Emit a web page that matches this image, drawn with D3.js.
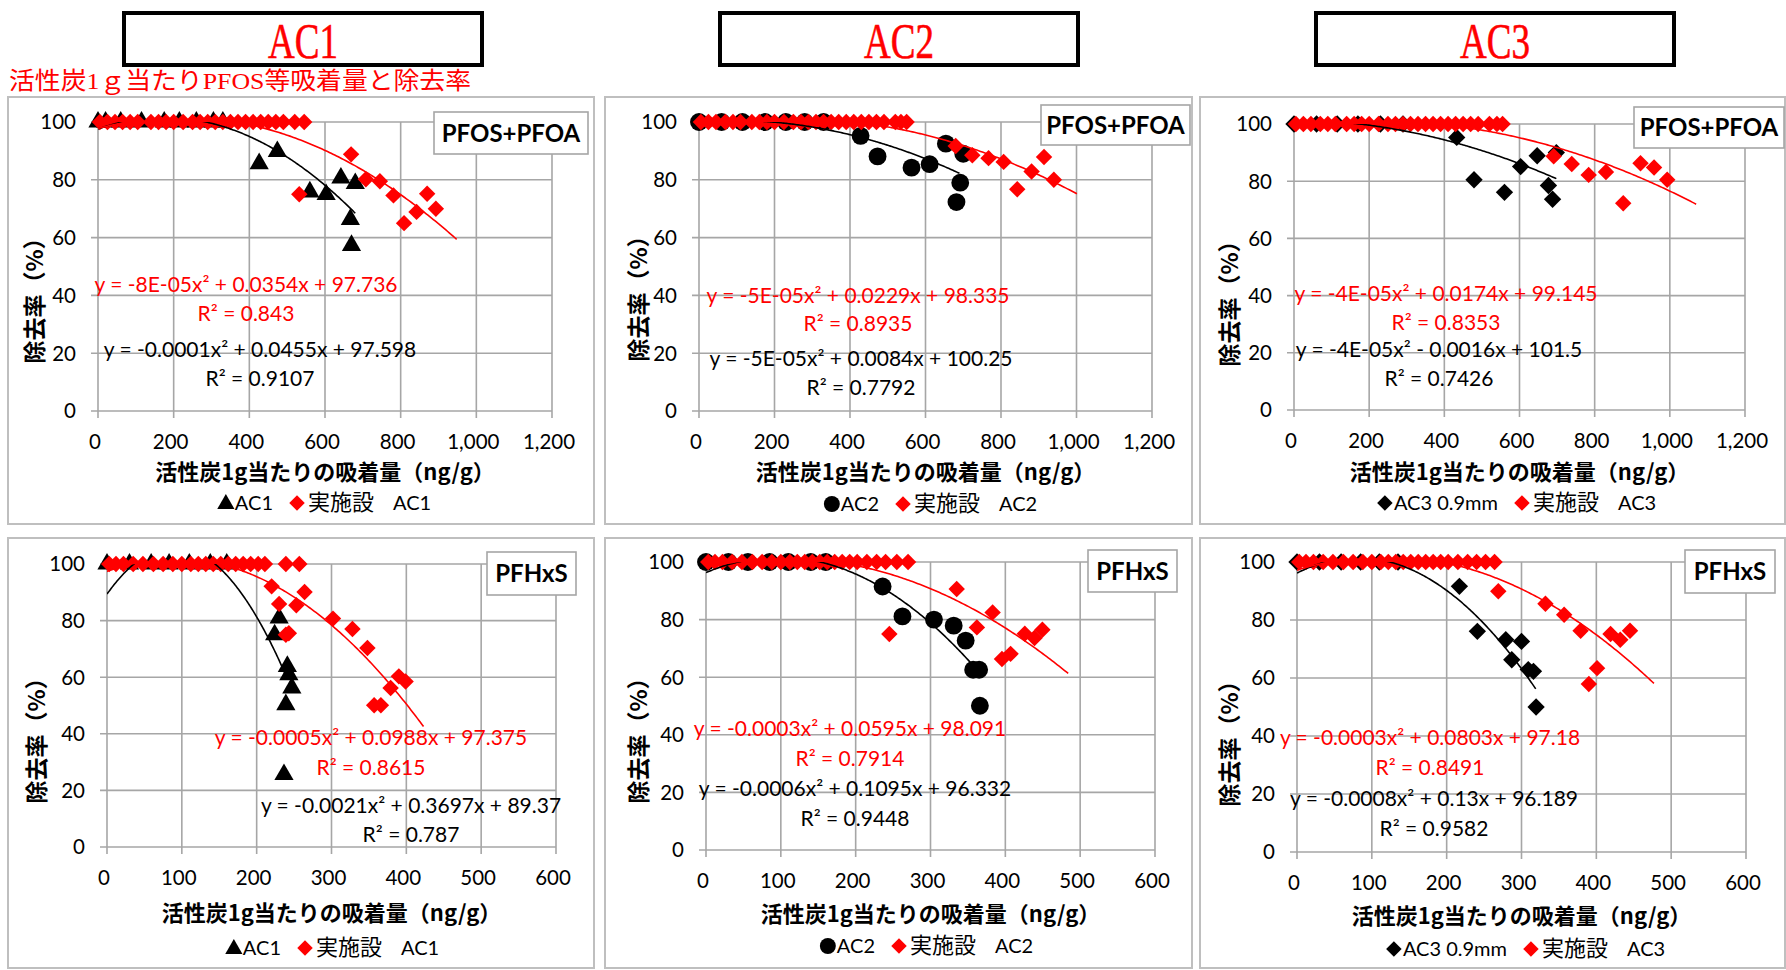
<!DOCTYPE html>
<html><head><meta charset="utf-8">
<script src="https://cdn.jsdelivr.net/npm/d3@7"></script>
<style>body{margin:0;background:#fff;} svg{display:block;}</style>
</head><body>
<svg id="c" width="1786" height="970"></svg>
<script>
// ---------------- DATA ----------------
const groups = ["AC1", "AC2", "AC3"];
const subtitle = "活性炭1ｇ当たりPFOS等吸着量と除去率";
const compounds = ["PFOS+PFOA", "PFHxS"];
const yTicks = [0, 20, 40, 60, 80, 100];
const xTicksTop = [0, 200, 400, 600, 800, 1000, 1200];
const xTicksBottom = [0, 100, 200, 300, 400, 500, 600];
const xTitle = "活性炭1g当たりの吸着量（ng/g）";
const yTitle = "除去率（%）";
const labNames = ["AC1", "AC2", "AC3 0.9mm"];
const plantLabel = "実施設";
const plantSuffix = ["AC1", "AC2", "AC3"];

// PFOS+PFOA
const pfosLabAC1 = [[0,100],[20,100],[60,100],[115,100],[175,100],[215,100],[260,100],[305,100],[330,100],
  [426,85.6],[474,89.8],[560,75.8],[603,74.9],[642,80.6],[680,78.7],[667,66.3],[670,57.3]];
const pfosPlantAC1 = [[5,100],[25,100],[45,100],[65,100],[85,100],[105,100],[140,100],[160,100],[180,100],[200,100],
  [225,100],[250,100],[270,100],[290,100],[310,100],[330,100],[350,100],[370,100],[390,100],[410,100],[430,100],
  [450,100],[470,100],[490,100],[520,100],[545,100],
  [532,75],[669,88.8],[708,80.2],[745,79.5],[781,74.6],[809,65],[842,68.9],[870,75.2],[893,70]];
const pfosLabAC2 = [[0,100],[60,100],[115,100],[175,100],[230,100],[280,100],[330,100],
  [428,95.2],[473,88.1],[563,84.2],[611,85.4],[654,92.5],[700,89],[692,79],[682,72.3]];
const pfosPlantAC2 = [[5,100],[25,100],[45,100],[70,100],[90,100],[110,100],[140,100],[160,100],[180,100],[200,100],
  [225,100],[250,100],[270,100],[290,100],[310,100],[330,100],[350,100],[370,100],[390,100],[410,100],[430,100],
  [450,100],[470,100],[490,100],[520,100],[535,100],[550,100],
  [680,91.7],[724,88.5],[767,87.5],[807,86.2],[843,76.7],[881,82.9],[914,87.9],[940,80]];
const pfosLabAC3 = [[0,100],[60,100],[115,100],[170,100],[230,100],[290,100],
  [433,95.3],[479,80.5],[560,76.1],[603,85.1],[647,88.9],[698,90],[677,78.5],[688,73.7]];
const pfosPlantAC3 = [[5,100],[25,100],[45,100],[70,100],[90,100],[110,100],[140,100],[160,100],[180,100],[200,100],
  [225,100],[250,100],[270,100],[290,100],[310,100],[330,100],[350,100],[370,100],[390,100],[410,100],[430,100],
  [450,100],[470,100],[490,100],[520,100],[540,100],[555,100],
  [691,88.7],[739,86],[784,82.2],[830,83.2],[876,72.3],[922,86.3],[958,84.8],[993,80.5]];

// PFHxS
const pfhxsLabAC1 = [[0,100],[30,100],[59,100],[83,100],[110,100],[138,100],[160,100],
  [230,80.9],[224,75],[241,63.8],[243,60.9],[247,56.2],[239,50.3],[236.5,25.6]];
const pfhxsPlantAC1 = [[3,100],[12,100],[22,100],[35,100],[48,100],[62,100],[75,100],[88,100],[100,100],[112,100],
  [122,100],[132,100],[142,100],[152,100],[162,100],[172,100],[182,100],[192,100],[202,100],[211,100],[239,100],[257,100],
  [220,92.1],[230,85.9],[239,75],[243,75.5],[253,85.4],[264,90.1],[302,80.7],[328,77],[348,70.3],[357,50.1],[366,50.1],
  [379,56.2],[390,60.3],[399,58.5]];
const pfhxsLabAC2 = [[0,100],[30,100],[56,100],[85,100],[110,100],[140,100],[160,100],
  [236,91.5],[262.5,81.1],[304.6,80],[331,77.9],[347,72.7],[357,62.6],[365,62.6],[366,50.1]];
const pfhxsPlantAC2 = [[3,100],[12,100],[22,100],[35,100],[48,100],[62,100],[75,100],[88,100],[100,100],[112,100],
  [122,100],[132,100],[142,100],[152,100],[162,100],[172,100],[182,100],[192,100],[202,100],[215,100],[228,100],
  [240,100],[255,100],[270,100],
  [245,75],[335,90.6],[362,77.3],[383,82.5],[395.5,66.3],[407,68.1],[426,75.1],[439,73.6],[449.5,76.5]];
const pfhxsLabAC3 = [[0,100],[30,100],[59,100],[85,100],[110,100],[135,100],
  [217,91.6],[241,76.1],[279,73.2],[287,66.3],[300,72.6],[309,62.9],[316,62.3],[319.5,50]];
const pfhxsPlantAC3 = [[3,100],[12,100],[22,100],[35,100],[48,100],[62,100],[75,100],[88,100],[100,100],[112,100],
  [122,100],[132,100],[142,100],[152,100],[162,100],[172,100],[182,100],[192,100],[202,100],[215,100],[228,100],
  [240,100],[252,100],[264,100],
  [269,89.9],[332,85.6],[357,81.8],[379,76.3],[390,57.9],[401,63.4],[419,75.2],[432,73.2],[445,76.3]];

// polynomial trendlines [a, b, c, xEnd]
const trendLab = [[-1.30e-4,0.0455,97.598,680],[-5e-5,0.0084,100.25,690],[-4e-5,-0.0016,101.5,698],
                  [-2.05e-3,0.3697,89.37,239],[-5.6e-4,0.1095,96.332,357],[-8e-4,0.13,96.189,319]];
const trendPlant = [[-8e-5,0.0354,97.736,948],[-4.6e-5,0.0229,98.335,1001],[-4e-5,0.0174,99.145,1070],
                    [-5.4e-4,0.0988,97.375,423],[-2.8e-4,0.0595,98.091,484],[-3.4e-4,0.0803,97.18,477]];
const eqLabText = ["y = -0.0001x² + 0.0455x + 97.598","y = -5E-05x² + 0.0084x + 100.25","y = -4E-05x² - 0.0016x + 101.5",
                   "y = -0.0021x² + 0.3697x + 89.37","y = -0.0006x² + 0.1095x + 96.332","y = -0.0008x² + 0.13x + 96.189"];
const r2LabText = ["R² = 0.9107","R² = 0.7792","R² = 0.7426","R² = 0.787","R² = 0.9448","R² = 0.9582"];
const eqPlantText = ["y = -8E-05x² + 0.0354x + 97.736","y = -5E-05x² + 0.0229x + 98.335","y = -4E-05x² + 0.0174x + 99.145",
                     "y = -0.0005x² + 0.0988x + 97.375","y = -0.0003x² + 0.0595x + 98.091","y = -0.0003x² + 0.0803x + 97.18"];
const r2PlantText = ["R² = 0.843","R² = 0.8935","R² = 0.8353","R² = 0.8615","R² = 0.7914","R² = 0.8491"];

const labSeries = [pfosLabAC1, pfosLabAC2, pfosLabAC3, pfhxsLabAC1, pfhxsLabAC2, pfhxsLabAC3];
const plantSeries = [pfosPlantAC1, pfosPlantAC2, pfosPlantAC3, pfhxsPlantAC1, pfhxsPlantAC2, pfhxsPlantAC3];

// ---------------- LAYOUT ----------------
const headerX = [124, 720, 1316];
const panelRect = [[8,97,586,427],[605,97,587,427],[1200,97,585,427],[8,538,586,430],[605,538,587,430],[1200,538,585,430]];
const plotArea = [[98,552,122,411],[699,1152,122,411],[1294,1745,124,410],[107,556,564,847],[706,1155,562,850],[1297,1746,562,852]];
const labelBox = [[434,112,154,42],[1041,105,149,40],[1634,107,150,41],[487,552,89,43],[1088,550,89,42],[1685,550,90,43]];
const yTitlePos = [[35,295],[639,293],[1230,298],[37,735],[639,735],[1230,738]];
const xTitleY = [472,472,472,913,914,916];
const legendPos = [[325,503],[931,504],[1517,503],[333,948],[927,946],[1526,949]];
const eqPlantPos = [[246,284,313],[858,295,323],[1446,293,322],[371,737,767],[850,728,758],[1430,737,767]];
const eqLabPos = [[260,349,378],[861,358,387],[1439,349,378],[411,805,834],[855,788,818],[1434,798,828]];
const labShape = ["triangle","circle","diamond"];

const FONT = "Lato, 'Noto Sans CJK JP', sans-serif";
const CJK = "'Noto Sans CJK JP', sans-serif";
const GRID = "#a6a6a6";
const RED = "#ff0000";

const svg = d3.select("#c");
svg.append("rect").attr("width",1786).attr("height",970).attr("fill","#fff");

// headers
groups.forEach((g,i)=>{
  const bx = headerX[i];
  svg.append("rect").attr("x",bx).attr("y",13).attr("width",358).attr("height",52)
    .attr("fill","#fff").attr("stroke","#000").attr("stroke-width",4);
  svg.append("text").attr("x",bx+179).attr("y",58).attr("text-anchor","middle")
    .attr("font-family","'Liberation Serif', serif").attr("font-size",50).attr("fill",RED)
    .attr("stroke",RED).attr("stroke-width",0.6)
    .attr("textLength",70).attr("lengthAdjust","spacingAndGlyphs").text(g);
});
svg.append("text").attr("x",9).attr("y",89).attr("font-family","'Liberation Serif','Noto Sans CJK JP', serif")
  .attr("font-size",24).attr("fill",RED).attr("textLength",462).attr("lengthAdjust","spacingAndGlyphs").text(subtitle);

function marker(sel, shape, size){
  if(shape==="triangle") return sel.append("path").attr("d", d3.symbol(d3.symbolTriangle, size)());
  if(shape==="circle") return sel.append("path").attr("d", d3.symbol(d3.symbolCircle, size)());
  return sel.append("path").attr("d", d3.symbol(d3.symbolSquare, size)());
}

for(let i=0;i<6;i++){
  const row = i<3?0:1, col = i%3;
  const [px,py,pw,ph] = panelRect[i];
  const [x0,x1,yt,yb] = plotArea[i];
  const xMax = row===0?1200:600;
  const xt = row===0?xTicksTop:xTicksBottom;
  const x = d3.scaleLinear().domain([0,xMax]).range([x0,x1]);
  const y = d3.scaleLinear().domain([0,100]).range([yb,yt]);
  const g = svg.append("g");

  g.append("rect").attr("x",px).attr("y",py).attr("width",pw).attr("height",ph)
    .attr("fill","#fff").attr("stroke","#bfbfbf").attr("stroke-width",2);

  // gridlines
  g.append("g").selectAll("line").data(yTicks).join("line")
    .attr("x1",x0-7).attr("x2",x1).attr("y1",d=>y(d)).attr("y2",d=>y(d))
    .attr("stroke",GRID).attr("stroke-width",1.6);
  g.append("g").selectAll("line").data(xt).join("line")
    .attr("x1",d=>x(d)).attr("x2",d=>x(d)).attr("y1",yt).attr("y2",yb+7)
    .attr("stroke",GRID).attr("stroke-width",1.6);

  // tick labels
  g.append("g").selectAll("text").data(yTicks).join("text")
    .attr("x",x0-22).attr("y",d=>y(d)).attr("dy","0.36em").attr("text-anchor","end")
    .attr("font-family",FONT).attr("font-size",20.5).attr("fill","#000").text(d=>d);
  const fmt = d3.format(",");
  g.append("g").selectAll("text").data(xt).join("text")
    .attr("x",d=>x(d)-3).attr("y",yb+38).attr("text-anchor","middle")
    .attr("font-family",FONT).attr("font-size",20.5).attr("fill","#000").text(d=>fmt(d));

  // axis titles
  g.append("text").attr("x",(x0+x1)/2).attr("y",xTitleY[i]).attr("dy","0.36em").attr("text-anchor","middle")
    .attr("font-family",CJK).attr("font-weight","bold").attr("font-size",22).text(xTitle);
  g.append("text").attr("transform",`translate(${yTitlePos[i][0]},${yTitlePos[i][1]}) rotate(-90)`)
    .attr("dy","0.36em").attr("text-anchor","middle")
    .attr("font-family",CJK).attr("font-weight","bold").attr("font-size",23).text(yTitle);

  // markers: lab series (black) then plant (red)
  const shape = labShape[col];
  const labSize = shape==="triangle"?160:(shape==="circle"?250:150);
  labSeries[i].forEach(d=>{
    const m = marker(g, shape, labSize).attr("fill","#000");
    m.attr("transform",`translate(${x(d[0])},${y(d[1])})${shape==="diamond"?" rotate(45)":""}`);
  });
  plantSeries[i].forEach(d=>{
    marker(g,"diamond",135).attr("fill",RED)
      .attr("transform",`translate(${x(d[0])},${y(d[1])}) rotate(45)`);
  });

  // trendlines (clipped to plot area)
  const cid = "clip"+i;
  g.append("clipPath").attr("id",cid).append("rect").attr("x",x0).attr("y",yt).attr("width",x1-x0).attr("height",yb-yt);
  const line = d3.line().x(d=>x(d[0])).y(d=>y(d[1]));
  [[trendLab[i],"#000"],[trendPlant[i],RED]].forEach(([t,color])=>{
    const [a,b,c,xe] = t;
    const pts = d3.range(0,201).map(k=>{const xv = xe*k/200; return [xv, a*xv*xv+b*xv+c];});
    g.append("path").attr("d",line(pts)).attr("fill","none").attr("stroke",color)
      .attr("stroke-width",1.6).attr("clip-path",`url(#${cid})`);
  });

  // label box
  const [bx,by,bw,bh] = labelBox[i];
  g.append("rect").attr("x",bx).attr("y",by).attr("width",bw).attr("height",bh)
    .attr("fill","#fff").attr("stroke",GRID).attr("stroke-width",1.6);
  g.append("text").attr("x",bx+bw/2).attr("y",by+bh/2).attr("dy","0.36em").attr("text-anchor","middle")
    .attr("font-family",FONT).attr("font-weight","bold").attr("font-size",24).text(compounds[row]);

  // equations
  const ep = eqPlantPos[i], el = eqLabPos[i];
  [[ep,eqPlantText[i],r2PlantText[i],RED],[el,eqLabText[i],r2LabText[i],"#000"]].forEach(([p,t1,t2,color])=>{
    g.append("text").attr("x",p[0]).attr("y",p[1]).attr("dy","0.36em").attr("text-anchor","middle")
      .attr("font-family",FONT).attr("font-size",21).attr("fill",color).text(t1);
    g.append("text").attr("x",p[0]).attr("y",p[2]).attr("dy","0.36em").attr("text-anchor","middle")
      .attr("font-family",FONT).attr("font-size",21).attr("fill",color).text(t2);
  });

  // legend
  const lg = g.append("g");
  let cx = 0;
  const m1 = marker(lg, shape, labSize*0.8).attr("fill","#000");
  m1.attr("transform",`translate(${cx+7},${shape==="triangle"?1:0})${shape==="diamond"?" rotate(45)":""}`);
  cx += 16;
  const t1 = lg.append("text").attr("x",cx).attr("y",0).attr("dy","0.36em")
    .attr("font-family",FONT).attr("font-size",20).text(labNames[col]);
  cx += t1.node().getComputedTextLength() + 17;
  marker(lg,"diamond",120).attr("fill",RED).attr("transform",`translate(${cx+7},0) rotate(45)`);
  cx += 18;
  const t2 = lg.append("text").attr("x",cx).attr("y",0).attr("dy","0.36em")
    .attr("font-family",FONT).attr("font-size",20);
  t2.append("tspan").attr("font-family",CJK).attr("font-size",22).text(plantLabel);
  t2.append("tspan").attr("dx",19).text(plantSuffix[col]);
  cx += t2.node().getComputedTextLength() + 19;
  lg.attr("transform",`translate(${legendPos[i][0]-cx/2},${legendPos[i][1]})`);
}
</script>
</body></html>
